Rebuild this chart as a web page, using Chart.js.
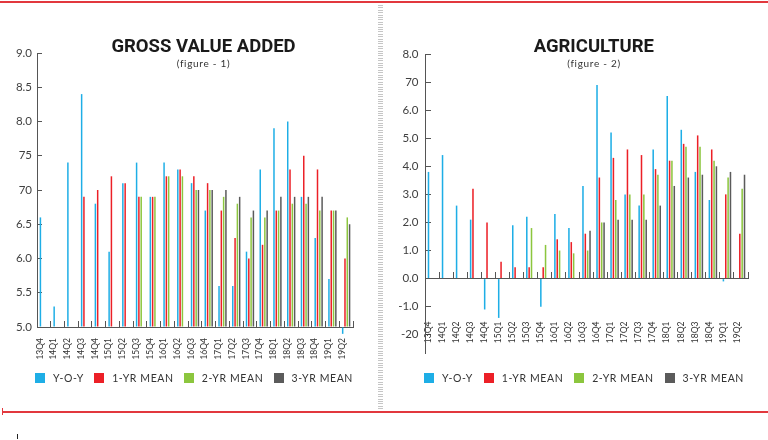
<!DOCTYPE html>
<html>
<head>
<meta charset="utf-8">
<script src="https://cdn.jsdelivr.net/npm/chart.js@4.4.1/dist/chart.umd.min.js"></script>
<style>
  html, body { margin: 0; padding: 0; background: #fff; }
  body { position: relative; width: 768px; height: 440px; overflow: hidden; font-family: Lato, 'Open Sans', sans-serif; }
  .rule { position: absolute; height: 1.5px; background: #e2383d; }
  .rule.top { left: 0; top: 1px; width: 768px; }
  .rule.bottom { left: 2px; top: 411px; width: 766px; }
  .cap { position: absolute; left: 2px; top: 408px; width: 1px; height: 7px; background: #e2383d; }
  .divider { position: absolute; left: 378px; top: 5px; width: 5px; height: 404px;
    background: repeating-linear-gradient(to bottom, #c6c6c6 0 1px, transparent 1px 2.4px); }
  .speck { position: absolute; left: 17px; top: 434px; width: 1px; height: 5px; background: #222; }
  .panel { position: absolute; top: 0; height: 380px; }
  #gvaPanel { left: 0; width: 380px; }
  #agriPanel { left: 384px; width: 384px; }
  .title { position: absolute; width: 300px; text-align: center; top: 35px; line-height: 18px;
    font: 700 18.5px Roboto, sans-serif; color: #1a1a1a; }
  .sub { position: absolute; width: 300px; text-align: center; top: 57px; line-height: 12px;
    font: 400 10px Lato, sans-serif; letter-spacing: 0.7px; color: #333; }
  .legend { position: absolute; top: 372px; height: 11px; display: flex; justify-content: space-between; align-items: center; }
  .legend .item { display: flex; align-items: center; }
  .legend .box { width: 10px; height: 10px; margin-right: 8px; }
  .legend .txt { font-size: 10.5px; letter-spacing: 0.6px; color: #333; white-space: nowrap; }
</style>
</head>
<body>
<div class="rule top"></div>
<div class="divider"></div>
<div class="rule bottom"></div>
<div class="cap"></div>
<div class="speck"></div>

<div class="panel" id="gvaPanel"><canvas id="gvaChart" width="380" height="380"></canvas></div>
<div class="panel" id="agriPanel"><canvas id="agriChart" width="384" height="380"></canvas></div>

<div class="title" style="left:53.5px">GROSS VALUE ADDED</div>
<div class="sub" style="left:53.5px">(figure - 1)</div>
<div class="title" style="left:443.8px">AGRICULTURE</div>
<div class="sub" style="left:444px">(figure - 2)</div>

<div class="legend" id="gvaLegend" style="left:35px; width:318px"></div>
<div class="legend" id="agriLegend" style="left:424px; width:320px"></div>

<script>
Chart.defaults.font.family = "Lato, 'Open Sans', sans-serif";
Chart.defaults.plugins.legend.display = false;
Chart.defaults.plugins.tooltip.enabled = false;
Chart.defaults.animation = false;

const AXIS = '#555';

const QUARTERS = ['13Q4','14Q1','14Q2','14Q3','14Q4','15Q1','15Q2','15Q3','15Q4','16Q1','16Q2','16Q3',
                  '16Q4','17Q1','17Q2','17Q3','17Q4','18Q1','18Q2','18Q3','18Q4','19Q1','19Q2'];
const SERIES_NAMES  = ['Y-O-Y', '1-YR MEAN', '2-YR MEAN', '3-YR MEAN'];
const SERIES_COLORS = ['#1eaee6', '#ec2027', '#8cc63e', '#5b5b5b'];

/* ── Gross value added (figure 1) ── */
const GVA_YOY = [6.6, 5.3, 7.4, 8.4, 6.8, 6.1, 7.1, 7.4, 6.9, 7.4, 7.3, 7.1, 6.7, 5.6, 5.6, 6.1, 7.3, 7.9, 8.0, 6.9, 6.3, 5.7, 4.9];
const GVA_1YR = [null, null, null, 6.9, 7.0, 7.2, 7.1, 6.9, 6.9, 7.2, 7.3, 7.2, 7.1, 6.7, 6.3, 6.0, 6.2, 6.7, 7.3, 7.5, 7.3, 6.7, 6.0];
const GVA_2YR = [null, null, null, null, null, null, null, 6.9, 6.9, 7.2, 7.2, 7.0, 7.0, 6.9, 6.8, 6.6, 6.6, 6.7, 6.8, 6.8, 6.7, 6.7, 6.6];
const GVA_3YR = [null, null, null, null, null, null, null, null, null, null, null, 7.0, 7.0, 7.0, 6.9, 6.7, 6.7, 6.9, 6.9, 6.9, 6.9, 6.7, 6.5];
const GVA_TICKS = [5.0, 5.5, 6.0, 6.5, 7.0, 7.5, 8.0, 8.5, 9.0];
const GVA_TICK_LABELS = ['5.0', '5.5', '6.0', '6.5', '70', '75', '8.0', '8.5', '9.0'];

/* ── Agriculture (figure 2) ── */
const AGRI_YOY = [3.8, 4.4, 2.6, 2.1, -1.1, -1.4, 1.9, 2.2, -1.0, 2.3, 1.8, 3.3, 6.9, 5.2, 3.0, 2.6, 4.6, 6.5, 5.3, 3.8, 2.8, -0.1, 0];
const AGRI_1YR = [null, null, null, 3.2, 2.0, 0.6, 0.4, 0.4, 0.4, 1.4, 1.3, 1.6, 3.6, 4.3, 4.6, 4.4, 3.9, 4.2, 4.8, 5.1, 4.6, 3.0, 1.6];
const AGRI_2YR = [null, null, null, null, null, null, null, 1.8, 1.2, 1.0, 0.9, 1.0, 2.0, 2.8, 3.0, 3.0, 3.7, 4.2, 4.7, 4.7, 4.2, 3.6, 3.2];
const AGRI_3YR = [null, null, null, null, null, null, null, null, null, null, null, 1.7, 2.0, 2.1, 2.1, 2.1, 2.6, 3.3, 3.6, 3.7, 4.0, 3.8, 3.7];
const AGRI_TICKS = [-2, -1, 0, 1, 2, 3, 4, 5, 6, 7, 8];
const AGRI_TICK_LABELS = ['-20', '-1.0', '0.0', '1.0', '2.0', '3.0', '4.0', '5.0', '6.0', '70', '8.0'];

function buildChart(canvas, series, o) {
  return new Chart(canvas, {
    type: 'bar',
    data: {
      labels: QUARTERS,
      datasets: series.map((data, i) => ({
        label: SERIES_NAMES[i], data, base: o.xAt,
        backgroundColor: SERIES_COLORS[i], borderWidth: 0,
        categoryPercentage: 0.67, barPercentage: 0.65, clip: false,
      })),
    },
    options: {
      responsive: false,
      layout: { padding: o.padding },
      scales: {
        x: {
          position: { y: o.xAt },
          grid: { drawOnChartArea: false, tickLength: -7, color: AXIS, offset: true },
          border: { color: AXIS },
          ticks: { autoSkip: false, minRotation: 90, maxRotation: 90, padding: o.xPad, labelOffset: -4,
                   color: '#333', font: { size: 8.5 } },
          afterFit: s => {
            s.height = 0;
            s.paddingLeft = s.paddingRight = s.paddingTop = s.paddingBottom = 0;
          },
        },
        y: {
          min: o.min, max: o.max,
          afterBuildTicks: s => { s.ticks = o.ticks.map(value => ({ value })); },
          grid: { drawOnChartArea: false, tickLength: -o.yTick, color: AXIS },
          border: { color: AXIS },
          ticks: { padding: o.yPad, color: '#404040', font: { size: 11.5 }, callback: (v, i) => o.tickLabels[i] },
          afterFit: s => { s.width = o.yWidth; s.paddingTop = s.paddingBottom = 0; },
        },
      },
    },
  });
}

buildChart(document.getElementById('gvaChart'), [GVA_YOY, GVA_1YR, GVA_2YR, GVA_3YR], {
  padding: { top: 53, right: 27, bottom: 53, left: 0 },
  xAt: 5, xPad: 18,
  min: 5, max: 9, ticks: GVA_TICKS, tickLabels: GVA_TICK_LABELS,
  yTick: 5, yPad: 10, yWidth: 37,
});

buildChart(document.getElementById('agriChart'), [AGRI_YOY, AGRI_1YR, AGRI_2YR, AGRI_3YR], {
  padding: { top: 54, right: 20, bottom: 27, left: 0 },
  xAt: 0, xPad: 50,
  min: -2.65, max: 8, ticks: AGRI_TICKS, tickLabels: AGRI_TICK_LABELS,
  yTick: 6, yPad: 12.5, yWidth: 41,
});

['gvaLegend', 'agriLegend'].forEach(id => {
  document.getElementById(id).innerHTML = SERIES_NAMES.map((name, i) =>
    `<div class="item"><span class="box" style="background:${SERIES_COLORS[i]}"></span><span class="txt">${name}</span></div>`
  ).join('');
});
</script>
</body>
</html>
